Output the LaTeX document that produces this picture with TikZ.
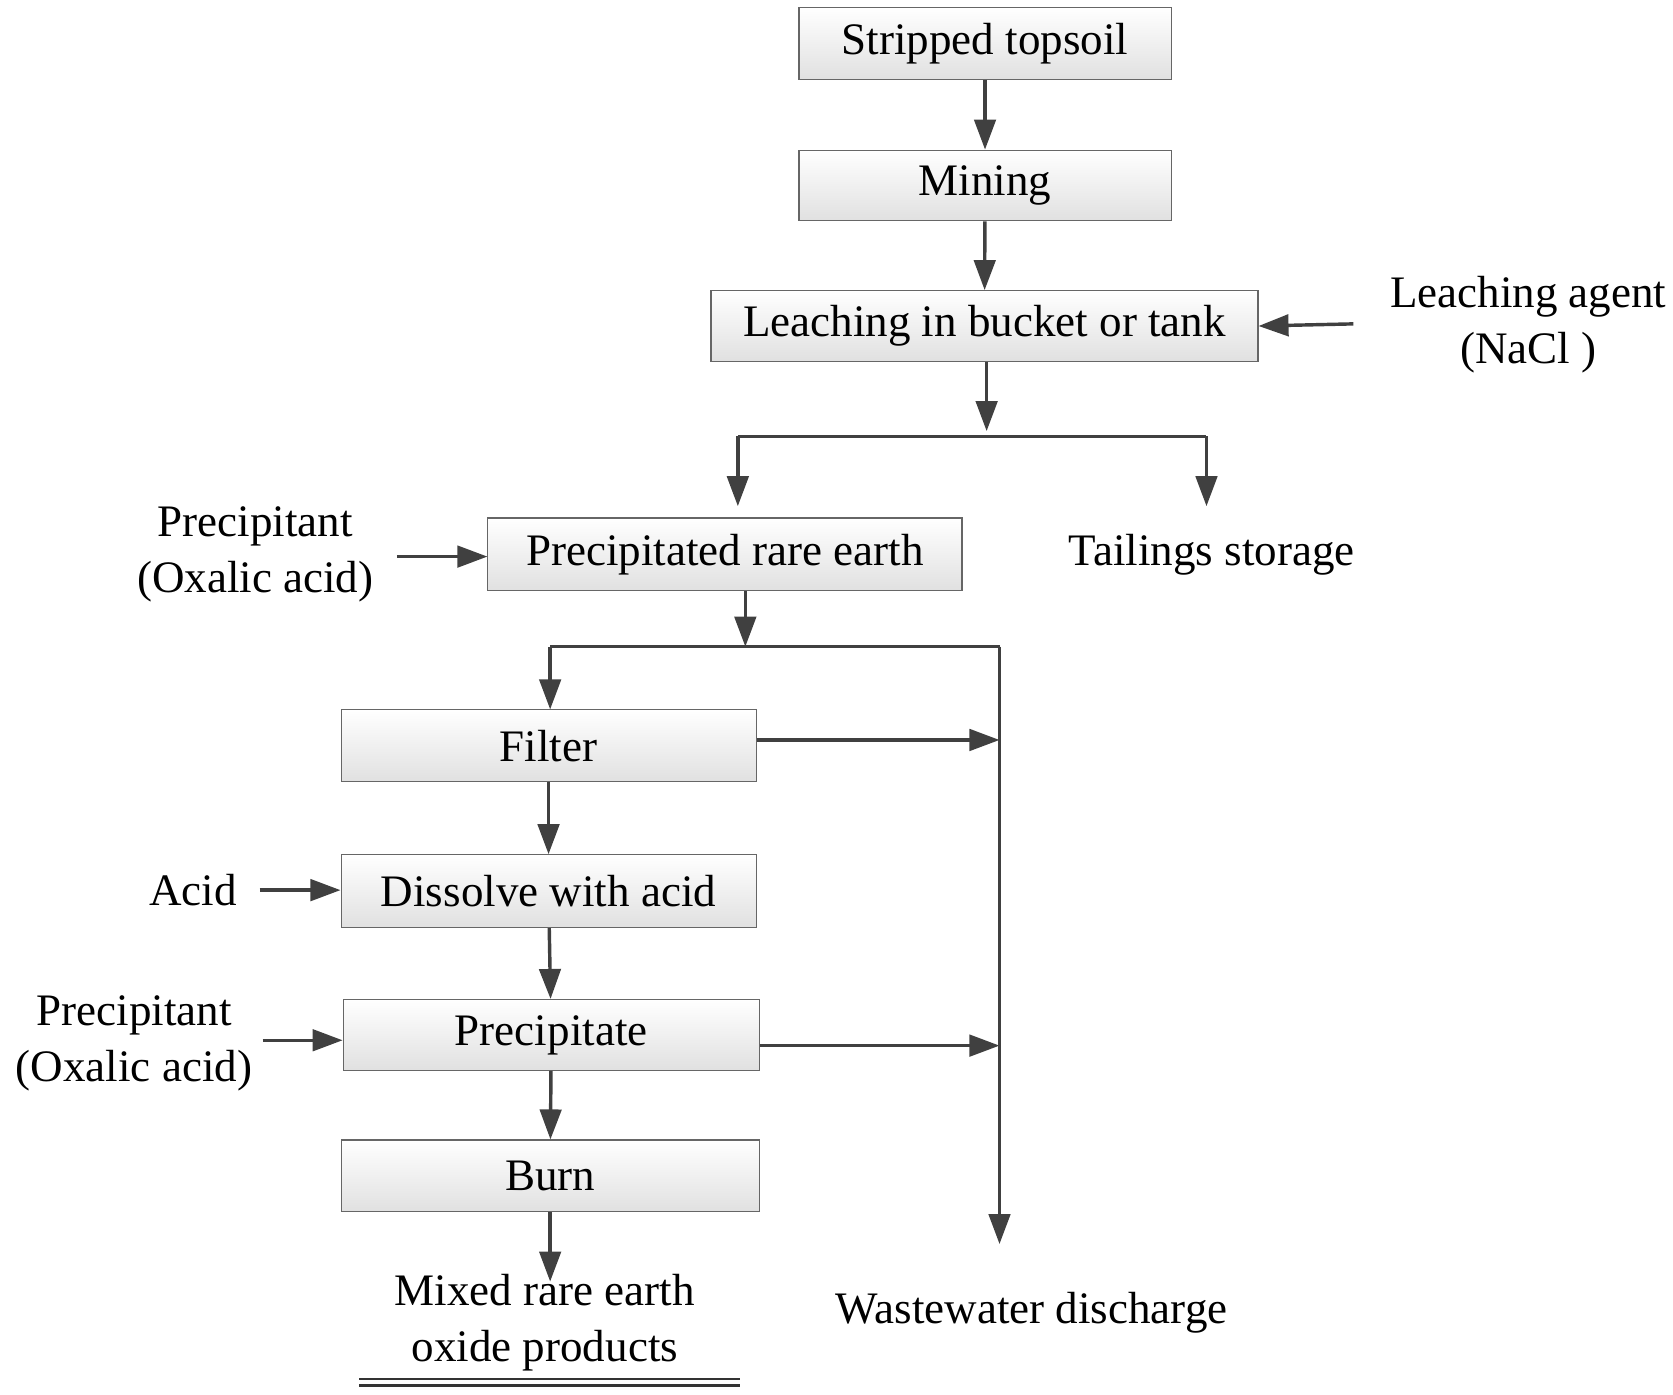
\documentclass[tikz,border=0pt]{standalone}
\usepackage{fontspec}
\setmainfont{Liberation Serif}
\usetikzlibrary{arrows.meta}
\begin{document}
\begin{tikzpicture}[x=0.5pt,y=-0.5pt,
  box/.style={draw=black!60,line width=0.5pt,top color=white,bottom color=black!12,inner sep=0pt,font=\fontsize{21}{26}\selectfont},
  lbl/.style={font=\fontsize{21}{26}\selectfont,align=center,inner sep=0pt},
  arr/.style={draw=black!75,line width=1.6pt,-{Triangle[length=14pt,width=10pt]}},
  ln/.style={draw=black!75,line width=1.6pt}]
\useasboundingbox (0,0) rectangle (1560,1300);
\node[box,minimum width=173.5pt,minimum height=33.5pt] (st) at (918.5,40.5) {Stripped topsoil};
\node[box,minimum width=173.5pt,minimum height=33pt] (mi) at (918.5,173) {Mining};
\node[box,minimum width=255pt,minimum height=33pt] (le) at (918,304) {Leaching in bucket or tank};
\node[lbl] (la) at (1425,303) {Leaching agent\\(NaCl )};
\node[box,minimum width=221pt,minimum height=34pt] (pr) at (676,517) {Precipitated rare earth};
\node[lbl] (ts) at (1130,517) {Tailings storage};
\node[lbl] (p1) at (238,517) {Precipitant\\(Oxalic acid)};
\node[box,minimum width=193.5pt,minimum height=33.5pt] (fi) at (511.5,695.5) {Filter};
\node[box,minimum width=193.5pt,minimum height=34pt] (di) at (511.5,831) {Dissolve with acid};
\node[lbl] (ac) at (180,830) {Acid};
\node[box,minimum width=194pt,minimum height=33pt] (pp) at (514,965) {Precipitate};
\node[lbl] (p2) at (125,973) {Precipitant\\(Oxalic acid)};
\node[box,minimum width=195pt,minimum height=33.5pt] (bu) at (513,1096.5) {Burn};
\node[lbl] (mx) at (508,1233) {Mixed rare earth\\oxide products};
\node[lbl] (ww) at (962,1224) {Wastewater discharge};
\coordinate (b1) at (920,407);
\coordinate (b1l) at (688,407);
\coordinate (b1r) at (1125,407);
\coordinate (b2) at (695,603);
\coordinate (b2l) at (513,603);
\coordinate (b2r) at (932,603);
\coordinate (wend) at (932,1160);
\draw[arr] (st) -- (mi);
\draw[arr] (mi) -- (le);
\draw[arr] (1262,302) coordinate (laa) -- (le.east);
\draw[arr] (le.south -| b1) -- (920,402);
\draw[ln] (b1l) -- (b1r);
\draw[arr] (b1l) -- (688,472);
\draw[arr] (b1r) -- (1125,472);
\draw[arr] (370,519) coordinate (p1a) -- (pr.west |- p1a);
\draw[arr] (pr.south -| b2) -- (b2);
\draw[ln] (b2l) -- (b2r);
\draw[arr] (b2l) -- (fi.north -| b2l);
\draw[arr] (b2r) -- (wend);
\draw[arr] (fi.east |- 0,690) -- (932,690);
\draw[arr] (fi) -- (di);
\draw[arr] (242,830) coordinate (aca) -- (di.west |- aca);
\draw[arr] (di) -- (pp);
\draw[arr] (245,970) coordinate (p2a) -- (pp.west |- p2a);
\draw[arr] (pp.east |- 0,975) -- (932,975);
\draw[arr] (pp) -- (bu);
\draw[arr] (bu) -- (513,1195);
\draw[line width=1.2pt,black!80] (335,1286) -- (690,1286) (335,1292) -- (690,1292);
\end{tikzpicture}
\end{document}
